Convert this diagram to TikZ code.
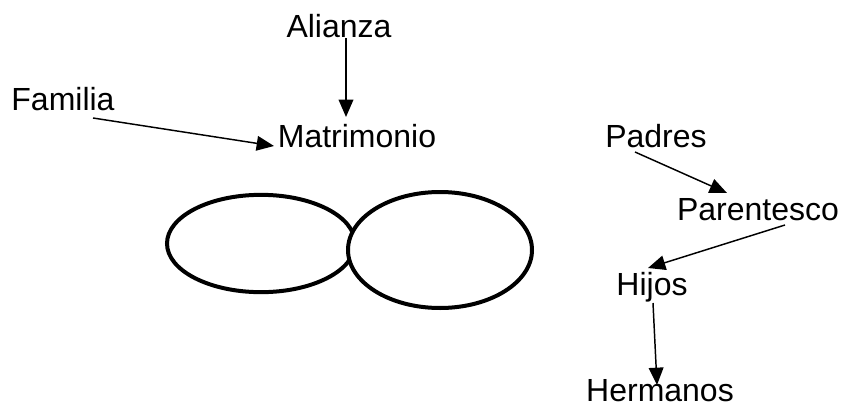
\documentclass[tikz,border=0pt]{standalone}
\usepackage{fontspec}
\setmainfont{Liberation Sans}
\usetikzlibrary{arrows.meta,calc,shapes.geometric}
\begin{document}
\begin{tikzpicture}[x=0.75pt,y=-0.75pt,
  word/.style={anchor=base,inner sep=0pt,font=\fontsize{24}{29}\selectfont},
  arr/.style={line width=1.1pt,-{Triangle[length=13pt,width=11pt]}},
  ring/.style={ellipse,draw,line width=3pt,inner sep=0pt,fill=white}]
\useasboundingbox (0,0) rectangle (846,407);
% words
\node[word] (alianza)    at (339,37)  {Alianza};
\node[word] (familia)    at (63,110)  {Familia};
\node[word] (matrimonio) at (357,147) {Matrimonio};
\node[word] (padres)     at (656,147) {Padres};
\node[word] (parentesco) at (758,220) {Parentesco};
\node[word] (hijos)      at (652,295) {Hijos};
\node[word] (hermanos)   at (660,401) {Hermanos};
% two overlapping rings
\node[ring,minimum width=141pt,minimum height=73pt] (left)  at (261,243.5) {};
\node[ring,minimum width=138pt,minimum height=87pt] (right) at (440,250) {};
% arrows
\draw[arr] ($(alianza.base)+(7,1)$) -- ($(matrimonio.base)+(-11,-30)$);
\draw[arr] ($(familia.base)+(30,8)$) -- ($(matrimonio.base)+(-83,-1)$);
\draw[arr] ($(padres.base)+(-21,5)$) -- ($(parentesco.base)+(-31,-27)$);
\draw[arr] ($(parentesco.base)+(27,5)$) -- ($(hijos.base)+(-4,-27)$);
\draw[arr] ($(hijos.base)+(1,8)$) -- ($(hermanos.base)+(-3,-16)$);
\end{tikzpicture}
\end{document}
